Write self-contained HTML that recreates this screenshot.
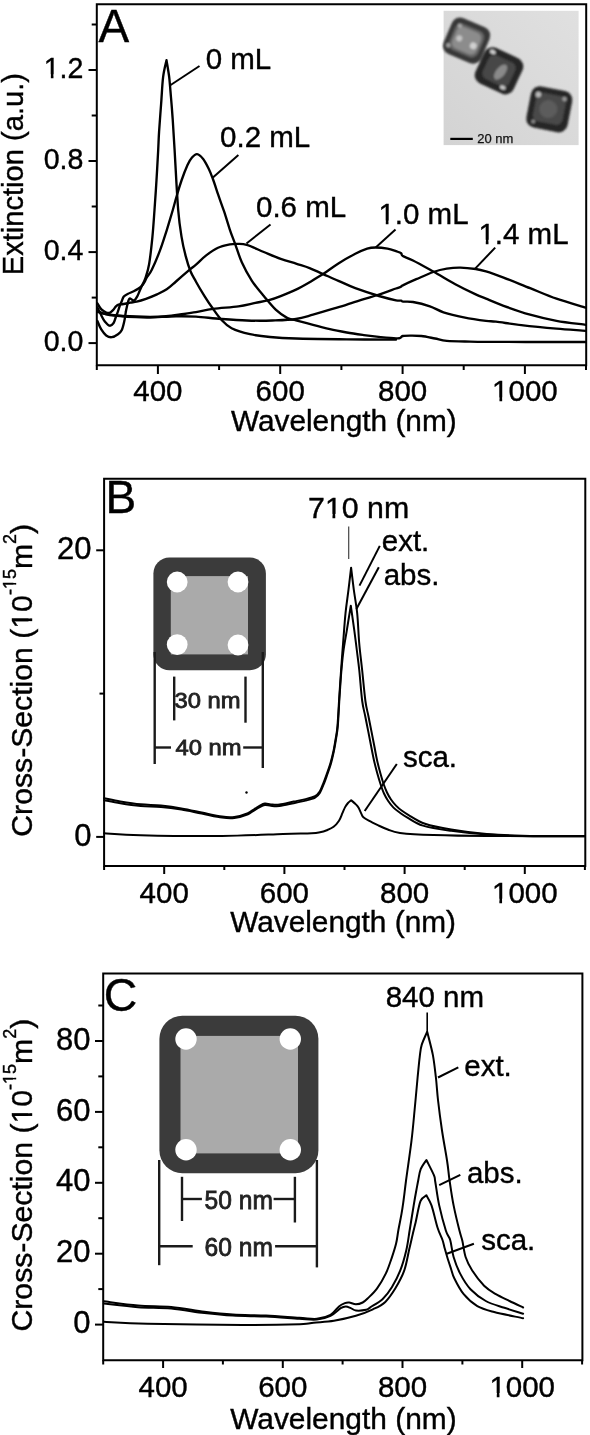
<!DOCTYPE html>
<html><head><meta charset="utf-8"><style>
html,body{margin:0;padding:0;background:#fff;width:590px;height:1435px;overflow:hidden}
svg{display:block;will-change:transform;filter:blur(0.45px)}
text{stroke:#000;stroke-width:0.4px}
</style></head><body>
<svg width="590" height="1435" viewBox="0 0 590 1435" font-family="'Liberation Sans', sans-serif" fill="#000">
<path d="M96.8 365.3 L96.8 4.3 L586.2 4.3 L586.2 365.3 Z" fill="none" stroke="#000" stroke-width="2.0"/>
<line x1="88.5" y1="343.1" x2="96.8" y2="343.1" stroke="#000" stroke-width="2.0"/>
<line x1="91.7" y1="297.6" x2="96.8" y2="297.6" stroke="#000" stroke-width="2.0"/>
<line x1="88.5" y1="252.1" x2="96.8" y2="252.1" stroke="#000" stroke-width="2.0"/>
<line x1="91.7" y1="206.5" x2="96.8" y2="206.5" stroke="#000" stroke-width="2.0"/>
<line x1="88.5" y1="161.0" x2="96.8" y2="161.0" stroke="#000" stroke-width="2.0"/>
<line x1="91.7" y1="115.5" x2="96.8" y2="115.5" stroke="#000" stroke-width="2.0"/>
<line x1="88.5" y1="70.0" x2="96.8" y2="70.0" stroke="#000" stroke-width="2.0"/>
<line x1="91.7" y1="24.5" x2="96.8" y2="24.5" stroke="#000" stroke-width="2.0"/>
<line x1="96.8" y1="365.3" x2="96.8" y2="370.0" stroke="#000" stroke-width="2.0"/>
<line x1="157.9" y1="365.3" x2="157.9" y2="374.0" stroke="#000" stroke-width="2.0"/>
<line x1="219.1" y1="365.3" x2="219.1" y2="370.0" stroke="#000" stroke-width="2.0"/>
<line x1="280.2" y1="365.3" x2="280.2" y2="374.0" stroke="#000" stroke-width="2.0"/>
<line x1="341.4" y1="365.3" x2="341.4" y2="370.0" stroke="#000" stroke-width="2.0"/>
<line x1="402.6" y1="365.3" x2="402.6" y2="374.0" stroke="#000" stroke-width="2.0"/>
<line x1="463.7" y1="365.3" x2="463.7" y2="370.0" stroke="#000" stroke-width="2.0"/>
<line x1="524.9" y1="365.3" x2="524.9" y2="374.0" stroke="#000" stroke-width="2.0"/>
<line x1="586.0" y1="365.3" x2="586.0" y2="370.0" stroke="#000" stroke-width="2.0"/>
<text x="83.4" y="351.3" font-size="30.2" text-anchor="end" textLength="39.7" lengthAdjust="spacingAndGlyphs">0.0</text>
<text x="83.4" y="260.3" font-size="30.2" text-anchor="end" textLength="39.7" lengthAdjust="spacingAndGlyphs">0.4</text>
<text x="83.4" y="169.2" font-size="30.2" text-anchor="end" textLength="39.7" lengthAdjust="spacingAndGlyphs">0.8</text>
<text x="83.4" y="78.2" font-size="30.2" text-anchor="end" textLength="39.7" lengthAdjust="spacingAndGlyphs">1.2</text>
<text x="157.9" y="401.3" font-size="29.5" text-anchor="middle">400</text>
<text x="280.2" y="401.3" font-size="29.5" text-anchor="middle">600</text>
<text x="402.6" y="401.3" font-size="29.5" text-anchor="middle">800</text>
<text x="524.9" y="401.3" font-size="29.5" text-anchor="middle">1000</text>
<text x="230.9" y="431.3" font-size="29.8">Wavelength (nm)</text>
<text transform="translate(22.9,275.2) rotate(-90)" font-size="29.1">Extinction (a.u.)</text>
<text x="98.6" y="41.7" font-size="46">A</text>
<g>
<rect x="443.6" y="10.8" width="135" height="134.3" fill="url(#temg)"/>
<g filter="url(#blur1)">
 <g transform="translate(466.6,40.6) rotate(23)">
  <rect x="-20.5" y="-19.5" width="41" height="39" rx="9" fill="#383838"/>
  <rect x="-15.5" y="-14" width="31" height="28" rx="7" fill="#666"/>
  <rect x="-13" y="-11.5" width="26" height="23" rx="6" fill="#8c8c8c"/>
  <circle cx="-7.6" cy="0.8" r="3" fill="#c4c4c4"/><circle cx="8.2" cy="2.2" r="3.4" fill="#d0d0d0"/>
  <circle cx="-12" cy="-11" r="2.2" fill="#a8a8a8"/><circle cx="-15" cy="11.5" r="2.2" fill="#a0a0a0"/>
 </g>
 <g transform="translate(499,70.8) rotate(25)">
  <rect x="-21" y="-19.5" width="42" height="39" rx="9" fill="#262626"/>
  <rect x="-14.5" y="-13" width="29" height="26" rx="6" fill="#474747"/>
  <ellipse cx="2" cy="0" rx="4.5" ry="9" transform="rotate(14)" fill="#8a8a8a"/>
  <ellipse cx="-13.5" cy="-14.5" rx="3" ry="2" fill="#d0d0d0"/><ellipse cx="10.5" cy="13.5" rx="3" ry="2" fill="#c8c8c8"/>
 </g>
 <g transform="translate(549.3,109.3) rotate(11)">
  <rect x="-21" y="-21" width="42" height="42" rx="9" fill="#262626"/>
  <rect x="-15" y="-15" width="30" height="29" rx="6" fill="#4a4a4a"/>
  <circle cx="-1" cy="0" r="9" fill="#5c5c5c"/>
  <circle cx="-13.5" cy="-12.5" r="2.8" fill="#b8b8b8"/><circle cx="13" cy="-13" r="2.3" fill="#9a9a9a"/>
  <circle cx="-13.5" cy="15" r="2" fill="#8a8a8a"/>
 </g>
</g>
<rect x="450.3" y="137.8" width="22.5" height="2.2" fill="#000"/>
<text x="477.2" y="143" font-size="13" style="stroke:#111;stroke-width:0.25px" fill="#111">20 nm</text>
</g>
<path d="M97.4 311.8 C99.4 312.3 103.2 314.1 109.6 315.0 C116.0 315.9 129.3 316.8 136.0 317.2 C142.7 317.6 143.3 317.6 150.0 317.5 C156.7 317.4 168.3 316.4 176.0 316.3 C183.7 316.2 188.4 316.2 196.0 316.6 C203.6 317.1 212.9 318.4 221.4 319.0 C229.9 319.6 238.3 320.2 246.8 320.5 C255.3 320.8 264.1 320.8 272.3 320.5 C280.5 320.2 289.2 320.0 296.0 319.0 C302.8 318.0 307.4 316.2 313.0 314.7 C318.6 313.1 324.3 311.4 329.9 309.7 C335.5 308.0 341.1 306.4 346.8 304.6 C352.5 302.9 358.4 300.9 363.8 299.2 C369.2 297.5 373.6 296.3 379.0 294.5 C384.4 292.7 392.3 289.8 396.0 288.5 C399.7 287.2 399.9 287.2 401.0 286.7 C402.1 286.2 400.2 286.6 402.8 285.4 C405.4 284.1 411.2 281.4 416.3 279.2 C421.4 277.0 428.2 273.8 433.3 272.0 C438.4 270.2 442.3 269.3 446.8 268.6 C451.3 267.9 455.6 267.5 460.4 267.6 C465.2 267.7 471.4 268.4 475.7 269.0 C480.0 269.6 481.4 270.0 486.0 271.4 C490.6 272.8 496.2 274.8 503.6 277.6 C511.0 280.4 521.3 284.7 530.1 288.2 C538.9 291.7 547.2 295.5 556.5 298.7 C565.8 301.9 580.8 306.1 585.6 307.6" fill="none" stroke="#000" stroke-width="2.35" stroke-linejoin="round" stroke-linecap="round"/>
<path d="M97.4 311.0 C98.3 311.4 100.8 312.7 102.8 313.3 C104.8 313.9 106.2 314.2 109.6 314.6 C113.0 315.1 116.4 315.6 123.1 316.0 C129.8 316.4 142.8 316.8 150.0 316.8 C157.2 316.8 161.0 316.6 166.0 316.2 C171.0 315.8 175.0 315.2 180.0 314.5 C185.0 313.8 190.5 313.1 196.0 312.2 C201.5 311.2 205.9 309.8 213.0 308.8 C220.1 307.8 231.3 307.3 238.4 306.3 C245.5 305.3 250.2 303.9 255.3 302.9 C260.4 301.9 264.7 301.3 268.9 300.2 C273.1 299.1 276.2 297.9 280.7 296.1 C285.2 294.3 291.2 291.9 296.0 289.6 C300.8 287.3 305.1 284.8 309.6 282.2 C314.1 279.6 318.3 277.2 323.1 274.1 C327.9 271.0 333.0 266.8 338.4 263.4 C343.8 260.0 350.5 256.3 355.3 253.8 C360.1 251.3 363.8 249.7 367.2 248.6 C370.6 247.5 372.3 247.5 375.7 247.5 C379.1 247.5 384.1 248.0 387.5 248.6 C390.9 249.2 393.7 250.4 396.0 251.2 C398.3 252.0 400.0 252.4 401.1 253.2 C402.2 254.0 400.8 254.8 402.8 256.0 C404.8 257.2 407.9 257.9 413.0 260.5 C418.1 263.1 426.2 267.6 433.3 271.5 C440.4 275.4 448.2 280.4 455.3 284.2 C462.4 288.0 470.6 292.0 475.7 294.4 C480.8 296.8 481.4 296.8 486.0 298.7 C490.6 300.6 496.2 303.1 503.6 305.8 C511.0 308.5 521.3 312.1 530.1 314.6 C538.9 317.1 547.2 319.1 556.5 320.8 C565.8 322.5 580.8 324.1 585.6 324.8" fill="none" stroke="#000" stroke-width="2.35" stroke-linejoin="round" stroke-linecap="round"/>
<path d="M97.4 303.3 C98.1 304.3 99.9 307.9 101.4 309.4 C102.9 310.9 104.8 311.9 106.2 312.5 C107.6 313.1 108.5 313.2 109.6 312.8 C110.7 312.4 112.0 311.1 113.0 310.1 C114.0 309.1 114.8 307.6 115.7 306.7 C116.6 305.8 117.2 305.1 118.5 304.6 C119.8 304.2 121.6 304.3 123.6 304.0 C125.6 303.7 128.3 303.0 130.5 302.6 C132.7 302.2 134.1 302.2 136.7 301.6 C139.3 301.0 142.6 300.0 146.0 298.8 C149.4 297.6 153.6 296.0 157.0 294.4 C160.4 292.8 163.5 291.4 166.7 289.3 C169.9 287.2 172.2 284.8 176.0 281.5 C179.8 278.2 186.4 272.5 189.7 269.7 C193.0 266.9 193.2 267.0 196.0 264.6 C198.8 262.2 202.5 258.2 206.2 255.4 C209.9 252.6 214.1 249.6 218.0 247.8 C221.9 246.0 226.7 245.1 229.9 244.4 C233.2 243.8 234.7 243.8 237.5 243.9 C240.3 244.0 242.4 243.6 246.8 244.9 C251.2 246.2 258.2 249.7 263.8 252.0 C269.4 254.3 275.3 256.9 280.7 258.8 C286.1 260.7 291.2 262.1 296.0 263.6 C300.8 265.2 305.1 266.4 309.6 268.1 C314.1 269.9 318.3 272.0 323.1 274.1 C327.9 276.2 333.0 278.5 338.4 280.8 C343.8 283.1 348.5 285.7 355.3 288.2 C362.1 290.7 372.2 294.0 379.0 296.0 C385.8 298.0 392.3 299.5 396.0 300.3 C399.7 301.1 399.8 300.4 401.0 300.6 C402.2 300.8 401.0 301.4 403.0 301.6 C405.0 301.8 408.5 301.2 413.0 302.0 C417.5 302.8 424.8 304.6 429.9 306.3 C435.0 308.0 437.9 310.5 443.5 312.3 C449.1 314.1 456.7 315.9 463.8 317.3 C470.9 318.7 480.6 320.1 486.0 320.8 C491.4 321.5 490.1 321.0 496.0 321.7 C501.9 322.4 511.2 324.0 521.3 325.2 C531.4 326.4 545.8 327.8 556.5 328.7 C567.2 329.6 580.8 330.4 585.6 330.8" fill="none" stroke="#000" stroke-width="2.35" stroke-linejoin="round" stroke-linecap="round"/>
<path d="M97.4 307.4 C98.1 308.8 100.2 313.1 101.4 315.5 C102.6 317.9 103.4 319.9 104.8 321.6 C106.2 323.3 108.1 325.5 109.6 325.7 C111.1 325.9 112.6 324.4 113.6 323.0 C114.6 321.6 115.0 319.3 115.7 317.5 C116.4 315.7 117.0 314.0 117.7 312.1 C118.4 310.2 119.0 307.9 119.7 306.0 C120.4 304.1 121.1 302.6 121.8 301.0 C122.5 299.4 122.8 297.7 123.8 296.5 C124.8 295.3 125.9 294.9 127.6 294.0 C129.2 293.1 131.9 292.2 133.7 291.3 C135.5 290.4 137.1 289.5 138.5 288.6 C139.9 287.7 140.9 286.9 141.9 285.8 C142.9 284.7 143.8 283.2 144.6 281.8 C145.4 280.4 145.6 279.5 146.8 277.5 C148.0 275.5 149.6 274.2 151.8 269.7 C154.0 265.2 157.4 257.3 159.9 250.7 C162.4 244.1 164.5 237.1 166.7 230.3 C168.8 223.5 171.1 215.7 172.8 210.0 C174.5 204.3 175.2 200.9 176.7 196.0 C178.1 191.1 179.7 185.7 181.5 180.5 C183.3 175.3 185.8 168.8 187.5 165.0 C189.2 161.2 190.4 159.3 192.0 157.5 C193.6 155.7 195.2 153.9 197.0 154.1 C198.8 154.3 200.9 156.1 202.8 158.6 C204.8 161.1 207.0 165.4 208.7 168.8 C210.4 172.2 211.3 174.8 212.9 179.0 C214.5 183.2 216.2 188.8 218.0 194.2 C219.8 199.6 222.0 205.3 224.0 211.2 C226.0 217.1 228.1 224.4 229.9 229.8 C231.7 235.2 233.0 238.2 235.0 243.6 C237.0 249.0 239.0 256.0 241.8 262.2 C244.6 268.4 248.2 275.1 251.9 280.8 C255.6 286.5 259.8 291.3 263.8 296.1 C267.8 300.9 271.8 306.0 275.7 309.7 C279.6 313.4 284.1 316.3 287.5 318.1 C290.9 319.9 291.8 319.2 296.0 320.3 C300.2 321.4 307.4 323.4 313.0 324.9 C318.6 326.4 324.3 327.9 329.9 329.2 C335.5 330.5 341.1 331.5 346.8 332.5 C352.5 333.5 358.2 334.3 363.8 335.1 C369.4 335.9 375.3 336.6 380.7 337.1 C386.1 337.6 392.8 338.2 396.0 338.3 C399.2 338.4 398.9 338.4 400.0 338.0 C401.1 337.6 401.1 336.4 402.8 336.0 C404.5 335.6 406.9 335.6 410.0 335.6 C413.1 335.6 417.2 335.5 421.4 336.0 C425.6 336.5 430.8 337.7 435.0 338.5 C439.2 339.3 441.0 340.3 446.8 340.8 C452.6 341.3 461.8 341.4 470.0 341.6 C478.2 341.8 484.3 341.8 496.0 341.9 C507.7 342.0 525.1 342.0 540.0 342.0 C554.9 342.0 578.0 342.0 585.6 342.0" fill="none" stroke="#000" stroke-width="2.35" stroke-linejoin="round" stroke-linecap="round"/>
<path d="M97.4 321.0 C98.0 322.4 99.6 326.8 101.1 329.2 C102.6 331.6 104.4 334.2 106.2 335.5 C108.0 336.8 109.7 337.4 111.7 337.2 C113.7 337.0 116.3 335.4 118.0 334.2 C119.7 333.0 120.7 332.3 121.8 330.0 C122.9 327.7 123.8 323.3 124.5 320.3 C125.2 317.3 125.3 314.6 125.8 312.1 C126.2 309.6 126.8 307.2 127.2 305.3 C127.7 303.4 128.1 301.6 128.5 300.5 C128.9 299.4 129.3 298.5 129.9 298.4 C130.5 298.3 131.4 299.5 132.2 299.8 C133.0 300.1 133.8 300.7 134.6 300.2 C135.4 299.7 136.2 298.3 137.1 296.7 C138.0 295.1 138.9 292.6 139.8 290.6 C140.7 288.6 141.6 286.5 142.5 284.5 C143.4 282.5 144.2 281.8 145.3 278.4 C146.4 275.0 147.9 271.1 149.1 264.2 C150.3 257.3 151.5 246.1 152.4 237.1 C153.3 228.1 153.8 219.5 154.5 210.0 C155.2 200.5 155.9 190.0 156.5 180.0 C157.1 170.0 157.8 158.1 158.2 150.0 C158.6 141.9 158.6 139.0 159.1 131.4 C159.6 123.8 160.4 113.2 161.1 104.2 C161.8 95.2 162.2 84.4 163.1 77.1 C164.0 69.8 165.9 63.0 166.5 60.2 C166.9 63.0 168.4 70.9 169.2 77.1 C169.9 83.3 170.4 90.7 171.0 97.5 C171.6 104.3 172.0 109.0 172.6 117.8 C173.2 126.5 173.7 134.6 174.6 150.0 C175.5 165.4 177.0 195.5 178.2 210.0 C179.4 224.5 180.3 229.4 181.6 237.1 C182.8 244.8 184.2 250.5 185.7 256.1 C187.2 261.8 188.7 266.7 190.4 271.0 C192.1 275.3 193.7 277.5 196.0 281.7 C198.3 285.9 201.7 291.6 204.5 296.1 C207.3 300.6 210.2 304.9 213.0 308.8 C215.8 312.8 218.3 316.6 221.4 319.8 C224.5 323.1 226.8 325.9 231.6 328.3 C236.4 330.7 243.6 332.8 250.0 334.2 C256.4 335.6 262.3 336.3 270.0 337.0 C277.7 337.7 283.2 338.1 296.0 338.5 C308.8 338.9 330.1 339.1 346.8 339.3 C363.5 339.5 387.8 339.6 396.0 339.6" fill="none" stroke="#000" stroke-width="2.35" stroke-linejoin="round" stroke-linecap="round"/>
<line x1="169.9" y1="85.5" x2="199.5" y2="66.0" stroke="#000" stroke-width="2.0"/>
<line x1="212.9" y1="177.6" x2="238.4" y2="154.9" stroke="#000" stroke-width="2.0"/>
<line x1="246.5" y1="243.5" x2="270.5" y2="224.5" stroke="#000" stroke-width="2.0"/>
<line x1="375.7" y1="247.5" x2="395.5" y2="229.5" stroke="#000" stroke-width="2.0"/>
<line x1="474.7" y1="269.1" x2="495.2" y2="247.6" stroke="#000" stroke-width="2.0"/>
<text x="205.7" y="69.2" font-size="29.5">0 mL</text>
<text x="220.1" y="146.6" font-size="29.5">0.2 mL</text>
<text x="256.0" y="217.3" font-size="29.5">0.6 mL</text>
<text x="378.4" y="224.4" font-size="29.5">1.0 mL</text>
<text x="478.4" y="243.6" font-size="29.5">1.4 mL</text>
<path d="M104.1 866.1 L104.1 478.7 L585.3 478.7 L585.3 866.1 Z" fill="none" stroke="#000" stroke-width="2.0"/>
<line x1="96.2" y1="836.9" x2="104.1" y2="836.9" stroke="#000" stroke-width="2.0"/>
<line x1="99.5" y1="693.6" x2="104.1" y2="693.6" stroke="#000" stroke-width="2.0"/>
<line x1="96.2" y1="550.3" x2="104.1" y2="550.3" stroke="#000" stroke-width="2.0"/>
<line x1="104.1" y1="866.1" x2="104.1" y2="870.0" stroke="#000" stroke-width="2.0"/>
<line x1="164.2" y1="866.1" x2="164.2" y2="874.0" stroke="#000" stroke-width="2.0"/>
<line x1="224.3" y1="866.1" x2="224.3" y2="870.0" stroke="#000" stroke-width="2.0"/>
<line x1="284.4" y1="866.1" x2="284.4" y2="874.0" stroke="#000" stroke-width="2.0"/>
<line x1="344.5" y1="866.1" x2="344.5" y2="870.0" stroke="#000" stroke-width="2.0"/>
<line x1="404.6" y1="866.1" x2="404.6" y2="874.0" stroke="#000" stroke-width="2.0"/>
<line x1="464.7" y1="866.1" x2="464.7" y2="870.0" stroke="#000" stroke-width="2.0"/>
<line x1="524.8" y1="866.1" x2="524.8" y2="874.0" stroke="#000" stroke-width="2.0"/>
<line x1="584.9" y1="866.1" x2="584.9" y2="870.0" stroke="#000" stroke-width="2.0"/>
<text x="91.6" y="845.9" font-size="31" text-anchor="end">0</text>
<text x="91.6" y="559.3" font-size="31" text-anchor="end">20</text>
<text x="164.2" y="902.5" font-size="29.5" text-anchor="middle">400</text>
<text x="284.4" y="902.5" font-size="29.5" text-anchor="middle">600</text>
<text x="404.6" y="902.5" font-size="29.5" text-anchor="middle">800</text>
<text x="524.8" y="902.5" font-size="29.5" text-anchor="middle">1000</text>
<text x="230.2" y="931.8" font-size="29.8">Wavelength (nm)</text>
<text transform="translate(32.4,836.7) rotate(-90)" font-size="30.2">Cross-Section (10<tspan font-size="18" dy="-16">-15</tspan><tspan dy="16">m</tspan><tspan font-size="18" dy="-16">2</tspan><tspan dy="16">)</tspan></text>
<text x="105.4" y="513.2" font-size="46">B</text>
<g>
<rect x="153.4" y="557.6" width="112.5" height="112.6" rx="16" fill="#3b3b3b"/>
<rect x="170.8" y="576.1" width="77.2" height="78.3" fill="#aaaaaa"/>
<circle cx="177.2" cy="582" r="10.4" fill="#fff"/><circle cx="238" cy="582" r="10.4" fill="#fff"/>
<circle cx="177.2" cy="644.6" r="10.4" fill="#fff"/><circle cx="238" cy="645" r="10.4" fill="#fff"/>
</g>
<line x1="154.7" y1="652.0" x2="154.7" y2="764.0" stroke="#1a1a1a" stroke-width="2.4"/>
<line x1="262.8" y1="652.0" x2="262.8" y2="768.0" stroke="#1a1a1a" stroke-width="2.4"/>
<line x1="174.2" y1="676.6" x2="174.2" y2="720.4" stroke="#1a1a1a" stroke-width="2.4"/>
<line x1="245.5" y1="676.6" x2="245.5" y2="722.7" stroke="#1a1a1a" stroke-width="2.4"/>
<line x1="154.7" y1="747.5" x2="171.0" y2="747.5" stroke="#1a1a1a" stroke-width="2.4"/>
<line x1="243.2" y1="747.5" x2="262.8" y2="747.5" stroke="#1a1a1a" stroke-width="2.4"/>
<text x="174.5" y="708" font-size="21.5" fill="#222" style="stroke:#222;stroke-width:0.8px" textLength="66" lengthAdjust="spacingAndGlyphs">30 nm</text>
<text x="175.5" y="754.5" font-size="21.5" fill="#222" style="stroke:#222;stroke-width:0.8px" textLength="66" lengthAdjust="spacingAndGlyphs">40 nm</text>
<path d="M104.1 833.2 C110.2 833.5 121.0 834.7 140.7 835.2 C160.3 835.7 198.3 836.2 222.0 836.0 C245.7 835.8 268.2 834.5 283.1 834.0 C298.0 833.5 305.5 833.5 311.6 833.2 C317.8 832.9 317.5 832.7 320.0 832.2 C322.5 831.7 324.5 831.1 326.8 830.2 C329.1 829.3 331.6 828.4 333.6 826.8 C335.6 825.2 337.5 823.0 339.0 820.7 C340.5 818.4 341.4 815.5 342.4 813.2 C343.4 810.9 344.2 808.8 345.1 807.1 C346.0 805.4 347.0 804.1 348.0 803.0 C349.0 801.9 350.7 800.8 351.2 800.3 C352.0 801.0 354.7 803.1 355.9 804.4 C357.1 805.6 357.7 806.2 358.6 807.8 C359.5 809.4 360.6 812.3 361.4 813.9 C362.2 815.5 362.2 816.2 363.4 817.3 C364.6 818.4 366.3 819.4 368.8 820.7 C371.3 822.1 375.1 823.9 378.3 825.4 C381.5 826.9 384.2 828.2 387.8 829.5 C391.4 830.8 392.4 832.0 400.0 832.9 C407.6 833.8 418.9 834.5 433.4 835.0 C447.9 835.5 461.6 835.8 486.8 836.0 C512.0 836.2 568.3 836.2 584.6 836.3" fill="none" stroke="#000" stroke-width="2.0" stroke-linejoin="round" stroke-linecap="round"/>
<path d="M104.1 800.2 C106.8 800.7 114.2 802.2 120.3 803.2 C126.4 804.2 133.9 805.3 140.7 805.9 C147.5 806.5 154.2 806.4 161.0 807.0 C167.8 807.6 174.6 808.5 181.4 809.6 C188.2 810.7 194.9 812.3 201.7 813.6 C208.5 814.9 216.6 816.9 222.0 817.6 C227.4 818.3 230.2 818.5 234.3 818.0 C238.4 817.5 242.4 816.5 246.5 814.8 C250.6 813.1 255.6 809.2 258.7 807.6 C261.8 806.0 262.8 805.3 264.8 805.0 C266.8 804.7 268.4 805.6 270.9 805.8 C273.3 806.0 275.7 806.4 279.5 806.0 C283.3 805.6 289.3 804.1 293.7 803.2 C298.1 802.3 302.0 801.5 305.6 800.6 C309.2 799.7 312.7 798.9 315.1 797.6 C317.5 796.3 318.4 795.3 319.8 793.0 C321.2 790.7 322.6 787.1 323.8 784.0 C325.1 780.9 326.1 777.8 327.3 774.4 C328.5 771.0 329.8 767.4 330.9 763.6 C332.0 759.8 332.9 755.7 333.8 751.5 C334.7 747.3 335.4 742.7 336.1 738.5 C336.8 734.3 337.2 733.3 337.8 726.2 C338.4 719.1 339.0 704.9 339.6 696.0 C340.2 687.1 340.6 680.3 341.2 673.0 C341.8 665.7 342.4 659.0 343.3 652.0 C344.2 645.0 345.4 638.9 346.7 631.2 C347.9 623.5 350.1 610.0 350.8 605.7 C351.4 610.0 353.4 623.8 354.4 631.2 C355.4 638.6 356.0 643.5 356.8 650.0 C357.6 656.5 358.4 662.0 359.3 670.5 C360.2 679.0 361.2 693.4 362.2 701.0 C363.2 708.6 364.2 710.9 365.2 716.0 C366.2 721.1 367.3 726.6 368.3 731.6 C369.3 736.6 370.2 741.3 371.1 746.0 C372.0 750.7 372.9 755.5 373.9 760.0 C374.9 764.5 376.1 769.0 377.2 773.0 C378.3 777.0 379.4 780.6 380.5 784.0 C381.6 787.4 382.7 790.7 384.0 793.5 C385.3 796.3 386.6 798.6 388.2 801.0 C389.8 803.4 391.5 805.6 393.5 807.6 C395.5 809.6 397.8 811.2 400.0 812.8 C402.2 814.4 403.2 815.2 407.0 817.3 C410.8 819.4 415.6 823.4 423.0 825.6 C430.4 827.9 440.6 829.3 451.2 830.8 C461.8 832.3 475.0 833.7 486.8 834.6 C498.6 835.5 506.0 835.7 522.3 836.0 C538.6 836.3 574.2 836.2 584.6 836.3" fill="none" stroke="#000" stroke-width="2.0" stroke-linejoin="round" stroke-linecap="round"/>
<path d="M104.1 798.2 C106.8 798.7 114.2 800.4 120.3 801.4 C126.4 802.4 133.9 803.6 140.7 804.3 C147.5 805.0 154.2 804.9 161.0 805.6 C167.8 806.3 174.6 807.2 181.4 808.4 C188.2 809.5 194.9 811.1 201.7 812.5 C208.5 813.9 216.6 815.9 222.0 816.6 C227.4 817.4 230.2 817.5 234.3 817.0 C238.4 816.5 242.4 815.5 246.5 813.7 C250.6 811.9 255.6 808.1 258.7 806.4 C261.8 804.7 262.8 803.9 264.8 803.6 C266.8 803.3 268.4 804.2 270.9 804.4 C273.3 804.6 275.7 805.1 279.5 804.6 C283.3 804.1 289.3 802.5 293.7 801.6 C298.1 800.7 302.0 800.0 305.6 799.1 C309.2 798.2 312.8 797.3 315.1 796.1 C317.4 794.9 318.1 794.0 319.5 791.8 C320.9 789.6 322.2 786.0 323.4 783.0 C324.6 780.0 325.7 776.9 326.9 773.6 C328.1 770.3 329.4 766.8 330.5 763.0 C331.6 759.2 332.6 755.2 333.5 751.0 C334.4 746.8 335.1 742.2 335.8 738.0 C336.5 733.8 336.9 732.8 337.5 725.6 C338.1 718.4 338.8 703.8 339.4 695.0 C340.0 686.2 340.3 681.4 340.9 672.7 C341.5 664.0 342.3 652.9 343.1 643.0 C343.9 633.1 344.6 622.3 345.5 613.4 C346.4 604.5 347.6 597.3 348.5 589.7 C349.4 582.1 350.7 571.4 351.1 567.7 C351.6 571.4 352.8 582.1 353.8 589.7 C354.8 597.3 356.3 604.5 357.2 613.4 C358.1 622.3 358.4 633.5 359.2 643.0 C360.0 652.5 361.2 660.8 362.2 670.5 C363.2 680.2 364.4 693.4 365.4 701.0 C366.4 708.6 367.4 710.9 368.4 716.0 C369.4 721.1 370.5 726.6 371.5 731.6 C372.5 736.6 373.4 741.3 374.3 746.0 C375.2 750.7 376.0 755.5 377.0 760.0 C378.0 764.5 379.2 769.0 380.3 773.0 C381.4 777.0 382.5 780.8 383.6 784.0 C384.7 787.2 385.8 789.9 387.0 792.5 C388.2 795.1 389.5 797.3 391.0 799.5 C392.5 801.7 394.2 803.7 396.0 805.6 C397.8 807.5 399.8 809.2 402.0 810.8 C404.2 812.4 405.2 813.1 409.0 815.3 C412.8 817.5 418.0 821.4 425.0 823.8 C432.0 826.2 440.9 827.9 451.2 829.6 C461.5 831.3 475.0 832.9 486.8 833.9 C498.6 834.9 506.0 835.4 522.3 835.7 C538.6 836.1 574.2 836.0 584.6 836.0" fill="none" stroke="#000" stroke-width="2.0" stroke-linejoin="round" stroke-linecap="round"/>
<line x1="348.7" y1="526.6" x2="348.7" y2="559.1" stroke="#444" stroke-width="1.2"/>
<line x1="359.5" y1="585.6" x2="379.8" y2="545.9" stroke="#000" stroke-width="2.0"/>
<line x1="356.4" y1="609.0" x2="378.8" y2="567.3" stroke="#000" stroke-width="2.0"/>
<line x1="364.7" y1="811.0" x2="396.8" y2="764.0" stroke="#000" stroke-width="2.0"/>
<text x="358.6" y="517.8" font-size="30.3" text-anchor="middle">710 nm</text>
<text x="405.5" y="550.8" font-size="29.5" text-anchor="middle">ext.</text>
<text x="411.6" y="585.0" font-size="29.5" text-anchor="middle">abs.</text>
<text x="430.0" y="767.2" font-size="29.5" text-anchor="middle">sca.</text>
<circle cx="246.5" cy="792.5" r="1.2" fill="#000"/>
<path d="M103.2 1360.2 L103.2 973.6 L582.4 973.6 L582.4 1360.2 Z" fill="none" stroke="#000" stroke-width="2.0"/>
<line x1="95.0" y1="1324.6" x2="103.2" y2="1324.6" stroke="#000" stroke-width="2.0"/>
<line x1="98.3" y1="1289.1" x2="103.2" y2="1289.1" stroke="#000" stroke-width="2.0"/>
<line x1="95.0" y1="1253.7" x2="103.2" y2="1253.7" stroke="#000" stroke-width="2.0"/>
<line x1="98.3" y1="1218.2" x2="103.2" y2="1218.2" stroke="#000" stroke-width="2.0"/>
<line x1="95.0" y1="1182.8" x2="103.2" y2="1182.8" stroke="#000" stroke-width="2.0"/>
<line x1="98.3" y1="1147.3" x2="103.2" y2="1147.3" stroke="#000" stroke-width="2.0"/>
<line x1="95.0" y1="1111.9" x2="103.2" y2="1111.9" stroke="#000" stroke-width="2.0"/>
<line x1="98.3" y1="1076.4" x2="103.2" y2="1076.4" stroke="#000" stroke-width="2.0"/>
<line x1="95.0" y1="1041.0" x2="103.2" y2="1041.0" stroke="#000" stroke-width="2.0"/>
<line x1="98.3" y1="1005.5" x2="103.2" y2="1005.5" stroke="#000" stroke-width="2.0"/>
<line x1="103.2" y1="1360.2" x2="103.2" y2="1364.5" stroke="#000" stroke-width="2.0"/>
<line x1="163.1" y1="1360.2" x2="163.1" y2="1368.0" stroke="#000" stroke-width="2.0"/>
<line x1="222.9" y1="1360.2" x2="222.9" y2="1364.5" stroke="#000" stroke-width="2.0"/>
<line x1="282.8" y1="1360.2" x2="282.8" y2="1368.0" stroke="#000" stroke-width="2.0"/>
<line x1="342.6" y1="1360.2" x2="342.6" y2="1364.5" stroke="#000" stroke-width="2.0"/>
<line x1="402.5" y1="1360.2" x2="402.5" y2="1368.0" stroke="#000" stroke-width="2.0"/>
<line x1="462.4" y1="1360.2" x2="462.4" y2="1364.5" stroke="#000" stroke-width="2.0"/>
<line x1="522.2" y1="1360.2" x2="522.2" y2="1368.0" stroke="#000" stroke-width="2.0"/>
<line x1="582.1" y1="1360.2" x2="582.1" y2="1364.5" stroke="#000" stroke-width="2.0"/>
<text x="90.6" y="1333.2" font-size="31" text-anchor="end">0</text>
<text x="90.6" y="1262.3" font-size="31" text-anchor="end">20</text>
<text x="90.6" y="1191.4" font-size="31" text-anchor="end">40</text>
<text x="90.6" y="1120.5" font-size="31" text-anchor="end">60</text>
<text x="90.6" y="1049.6" font-size="31" text-anchor="end">80</text>
<text x="163.1" y="1396.8" font-size="29.5" text-anchor="middle">400</text>
<text x="282.8" y="1396.8" font-size="29.5" text-anchor="middle">600</text>
<text x="402.5" y="1396.8" font-size="29.5" text-anchor="middle">800</text>
<text x="522.2" y="1396.8" font-size="29.5" text-anchor="middle">1000</text>
<text x="230.2" y="1428.9" font-size="29.9">Wavelength (nm)</text>
<text transform="translate(31.9,1331.5) rotate(-90)" font-size="30.2">Cross-Section (10<tspan font-size="18" dy="-16">-15</tspan><tspan dy="16">m</tspan><tspan font-size="18" dy="-16">2</tspan><tspan dy="16">)</tspan></text>
<text x="103.8" y="1011.2" font-size="46.5">C</text>
<g>
<rect x="159.4" y="1015.8" width="159" height="157.4" rx="23" fill="#3b3b3b"/>
<rect x="180.5" y="1035.9" width="117.5" height="117.5" fill="#aaaaaa"/>
<circle cx="186" cy="1039" r="10.7" fill="#fff"/><circle cx="290.3" cy="1039" r="10.7" fill="#fff"/>
<circle cx="186" cy="1149.7" r="10.7" fill="#fff"/><circle cx="290.3" cy="1149.7" r="10.7" fill="#fff"/>
</g>
<line x1="159.2" y1="1160.0" x2="159.2" y2="1265.2" stroke="#1a1a1a" stroke-width="2.4"/>
<line x1="316.9" y1="1160.0" x2="316.9" y2="1267.4" stroke="#1a1a1a" stroke-width="2.4"/>
<line x1="182.0" y1="1176.8" x2="182.0" y2="1221.0" stroke="#1a1a1a" stroke-width="2.4"/>
<line x1="294.9" y1="1176.8" x2="294.9" y2="1222.5" stroke="#1a1a1a" stroke-width="2.4"/>
<line x1="182.0" y1="1199.0" x2="201.9" y2="1199.0" stroke="#1a1a1a" stroke-width="2.4"/>
<line x1="273.6" y1="1199.0" x2="294.9" y2="1199.0" stroke="#1a1a1a" stroke-width="2.4"/>
<line x1="159.2" y1="1246.3" x2="192.7" y2="1246.3" stroke="#1a1a1a" stroke-width="2.4"/>
<line x1="275.1" y1="1246.3" x2="316.9" y2="1246.3" stroke="#1a1a1a" stroke-width="2.4"/>
<text x="204.6" y="1208.6" font-size="26" fill="#222" style="stroke:#222;stroke-width:0.8px" textLength="68.3" lengthAdjust="spacingAndGlyphs">50 nm</text>
<text x="204.6" y="1256" font-size="26" fill="#222" style="stroke:#222;stroke-width:0.8px" textLength="68.3" lengthAdjust="spacingAndGlyphs">60 nm</text>
<path d="M103.8 1321.8 C111.1 1322.1 124.4 1323.2 147.5 1323.7 C170.6 1324.2 217.0 1325.0 242.4 1325.1 C267.8 1325.2 288.1 1324.6 300.0 1324.2 C311.9 1323.8 308.0 1323.3 313.6 1322.7 C319.2 1322.1 326.8 1322.0 333.9 1320.8 C340.9 1319.6 349.4 1317.7 355.9 1315.8 C362.4 1313.9 368.0 1311.6 372.9 1309.3 C377.8 1307.0 381.6 1305.4 385.3 1301.9 C389.1 1298.4 392.2 1293.5 395.4 1288.3 C398.5 1283.1 401.9 1277.2 404.2 1270.7 C406.5 1264.2 407.8 1255.6 409.3 1249.0 C410.9 1242.4 412.4 1235.4 413.5 1231.0 C414.6 1226.6 414.4 1227.4 415.6 1222.4 C416.8 1217.4 418.7 1205.7 420.5 1201.2 C422.3 1196.7 425.4 1196.3 426.4 1195.3 C427.2 1197.0 429.6 1200.0 431.5 1205.4 C433.4 1210.8 435.7 1221.7 437.5 1227.5 C439.3 1233.3 441.3 1236.6 442.5 1240.0 C443.7 1243.4 443.8 1245.2 444.6 1248.0 C445.4 1250.8 446.2 1253.7 447.2 1257.0 C448.2 1260.3 449.6 1264.5 450.8 1268.1 C452.0 1271.7 452.2 1274.2 454.4 1278.5 C456.5 1282.8 459.9 1289.6 463.7 1294.2 C467.5 1298.8 472.2 1303.1 477.3 1306.1 C482.4 1309.1 486.6 1310.0 494.2 1312.0 C501.8 1314.0 518.3 1317.2 523.1 1318.3" fill="none" stroke="#000" stroke-width="2.0" stroke-linejoin="round" stroke-linecap="round"/>
<path d="M103.8 1303.6 C109.5 1304.2 126.8 1306.4 138.0 1307.2 C149.2 1308.0 160.1 1307.6 171.2 1308.6 C182.3 1309.6 194.1 1311.8 204.4 1313.0 C214.7 1314.2 222.6 1315.0 232.9 1315.6 C243.2 1316.2 255.0 1316.1 266.1 1316.6 C277.2 1317.1 290.8 1318.3 299.3 1318.8 C307.8 1319.3 311.7 1320.0 316.9 1319.5 C322.1 1319.0 326.5 1317.7 330.5 1315.8 C334.5 1313.9 338.1 1309.7 340.7 1308.1 C343.2 1306.5 344.1 1306.4 345.8 1306.4 C347.5 1306.4 349.1 1307.4 350.8 1308.1 C352.5 1308.8 353.3 1310.2 355.9 1310.5 C358.4 1310.8 363.7 1310.3 366.1 1309.8 C368.5 1309.3 367.6 1309.1 370.3 1307.3 C373.0 1305.5 378.9 1302.6 382.5 1299.2 C386.1 1295.8 389.1 1291.8 392.0 1287.0 C394.9 1282.2 397.8 1276.8 400.2 1270.7 C402.6 1264.6 404.7 1257.1 406.3 1250.3 C407.9 1243.5 408.5 1237.5 409.7 1230.0 C410.9 1222.5 412.6 1212.1 413.7 1205.4 C414.8 1198.7 415.6 1194.2 416.4 1190.0 C417.2 1185.8 417.6 1183.5 418.3 1180.0 C419.0 1176.5 419.4 1172.4 420.7 1169.1 C422.0 1165.8 425.4 1161.5 426.4 1160.0 C427.6 1162.5 432.4 1171.5 433.9 1175.2 C435.4 1178.9 434.4 1177.0 435.3 1182.0 C436.2 1187.0 437.4 1197.3 439.2 1205.4 C441.0 1213.5 444.1 1225.0 445.9 1230.8 C447.7 1236.6 448.9 1235.6 450.2 1240.0 C451.5 1244.4 451.9 1251.3 453.6 1257.0 C455.3 1262.7 457.5 1268.5 460.3 1273.9 C463.1 1279.3 466.2 1284.7 470.5 1289.2 C474.8 1293.7 480.2 1297.9 485.8 1301.0 C491.4 1304.1 498.2 1305.7 504.4 1307.8 C510.6 1309.9 520.0 1312.7 523.1 1313.7" fill="none" stroke="#000" stroke-width="2.0" stroke-linejoin="round" stroke-linecap="round"/>
<path d="M103.8 1301.3 C109.5 1302.0 126.8 1304.5 138.0 1305.5 C149.2 1306.5 160.1 1306.0 171.2 1307.0 C182.3 1308.0 194.1 1310.5 204.4 1311.8 C214.7 1313.1 222.6 1314.0 232.9 1314.6 C243.2 1315.2 255.0 1315.1 266.1 1315.6 C277.2 1316.1 290.8 1317.3 299.3 1317.8 C307.8 1318.3 311.7 1319.3 316.9 1318.8 C322.1 1318.3 326.8 1317.0 330.5 1314.9 C334.2 1312.8 336.6 1308.4 339.0 1306.4 C341.4 1304.4 343.2 1303.8 344.9 1303.1 C346.6 1302.4 347.4 1302.3 349.2 1302.5 C351.0 1302.7 353.6 1304.3 355.9 1304.3 C358.1 1304.3 360.8 1303.5 362.7 1302.5 C364.6 1301.5 365.2 1300.9 367.6 1298.5 C370.0 1296.1 374.1 1292.5 377.1 1288.3 C380.2 1284.1 383.4 1278.6 385.9 1273.4 C388.4 1268.2 390.3 1262.1 392.0 1257.1 C393.7 1252.1 395.0 1248.1 396.1 1243.6 C397.2 1239.1 397.5 1235.0 398.4 1230.0 C399.3 1225.0 400.6 1218.9 401.5 1213.9 C402.4 1208.9 402.8 1205.7 403.6 1200.0 C404.4 1194.3 404.8 1189.9 406.1 1180.0 C407.4 1170.1 410.1 1152.4 411.5 1140.7 C412.9 1129.0 413.6 1120.5 414.6 1110.0 C415.6 1099.5 416.8 1086.3 417.6 1077.5 C418.5 1068.7 419.0 1062.5 419.7 1057.1 C420.4 1051.7 420.4 1049.1 421.7 1044.9 C422.9 1040.7 426.3 1033.9 427.2 1031.7 C428.1 1035.6 431.4 1047.5 432.9 1055.1 C434.3 1062.7 435.0 1070.0 435.9 1077.5 C436.8 1085.0 437.0 1091.2 438.0 1100.0 C439.0 1108.8 440.5 1120.3 442.0 1130.5 C443.5 1140.7 445.9 1152.8 447.1 1161.0 C448.4 1169.2 448.4 1172.6 449.5 1180.0 C450.6 1187.4 451.9 1196.9 453.6 1205.4 C455.3 1213.9 458.0 1224.9 459.5 1230.8 C461.0 1236.7 461.4 1236.6 462.4 1241.0 C463.4 1245.4 464.0 1252.1 465.6 1257.0 C467.2 1261.9 469.1 1265.7 472.2 1270.5 C475.3 1275.3 480.2 1281.8 484.1 1285.8 C488.1 1289.8 491.7 1291.7 495.9 1294.2 C500.1 1296.7 505.0 1298.8 509.5 1301.0 C514.0 1303.2 520.8 1306.4 523.1 1307.5" fill="none" stroke="#000" stroke-width="2.0" stroke-linejoin="round" stroke-linecap="round"/>
<line x1="427.2" y1="1012.4" x2="427.2" y2="1031.7" stroke="#000" stroke-width="1.6"/>
<line x1="438.0" y1="1077.5" x2="458.3" y2="1067.3" stroke="#000" stroke-width="2.0"/>
<line x1="439.2" y1="1185.1" x2="460.3" y2="1174.8" stroke="#000" stroke-width="2.0"/>
<line x1="446.8" y1="1253.7" x2="473.9" y2="1243.8" stroke="#000" stroke-width="2.0"/>
<text x="434.9" y="1007.3" font-size="29.5" text-anchor="middle">840 nm</text>
<text x="488.0" y="1076.2" font-size="29.5" text-anchor="middle">ext.</text>
<text x="494.8" y="1183.0" font-size="29.5" text-anchor="middle">abs.</text>
<text x="508.2" y="1250.0" font-size="29.5" text-anchor="middle">sca.</text>
<defs><linearGradient id="temg" x1="1" y1="0" x2="0" y2="1"><stop offset="0" stop-color="#e0e0e0"/><stop offset="1" stop-color="#d3d3d3"/></linearGradient><filter id="blur1" x="-10%" y="-10%" width="120%" height="120%"><feGaussianBlur stdDeviation="1.2"/></filter></defs>
<rect x="44.88" y="74.34" width="5.96" height="5.46" fill="#fff"/><rect x="53.46" y="74.34" width="5.73" height="5.46" fill="#fff"/>
<rect x="493.33" y="397.50" width="6.13" height="5.40" fill="#fff"/><rect x="502.16" y="397.50" width="5.90" height="5.40" fill="#fff"/>
<rect x="379.65" y="220.60" width="6.13" height="5.40" fill="#fff"/><rect x="388.48" y="220.60" width="5.90" height="5.40" fill="#fff"/>
<rect x="479.65" y="239.80" width="6.13" height="5.40" fill="#fff"/><rect x="488.48" y="239.80" width="5.90" height="5.40" fill="#fff"/>
<rect x="493.23" y="898.70" width="6.13" height="5.40" fill="#fff"/><rect x="502.06" y="898.70" width="5.90" height="5.40" fill="#fff"/>
<g transform="translate(32.4,836.7) rotate(-90)"><rect x="209.30" y="-3.86" width="6.25" height="5.46" fill="#fff"/><rect x="218.32" y="-3.86" width="6.01" height="5.46" fill="#fff"/></g>
<g transform="translate(32.4,836.7) rotate(-90)"><rect x="247.95" y="-18.94" width="4.11" height="4.54" fill="#fff"/><rect x="253.76" y="-18.94" width="3.97" height="4.54" fill="#fff"/></g>
<rect x="326.22" y="513.94" width="6.26" height="5.46" fill="#fff"/><rect x="335.26" y="513.94" width="6.03" height="5.46" fill="#fff"/>
<rect x="490.63" y="1393.00" width="6.13" height="5.40" fill="#fff"/><rect x="499.46" y="1393.00" width="5.90" height="5.40" fill="#fff"/>
<g transform="translate(31.9,1331.5) rotate(-90)"><rect x="209.30" y="-3.86" width="6.25" height="5.46" fill="#fff"/><rect x="218.32" y="-3.86" width="6.01" height="5.46" fill="#fff"/></g>
<g transform="translate(31.9,1331.5) rotate(-90)"><rect x="247.95" y="-18.94" width="4.11" height="4.54" fill="#fff"/><rect x="253.76" y="-18.94" width="3.97" height="4.54" fill="#fff"/></g>
</svg>
</body></html>
